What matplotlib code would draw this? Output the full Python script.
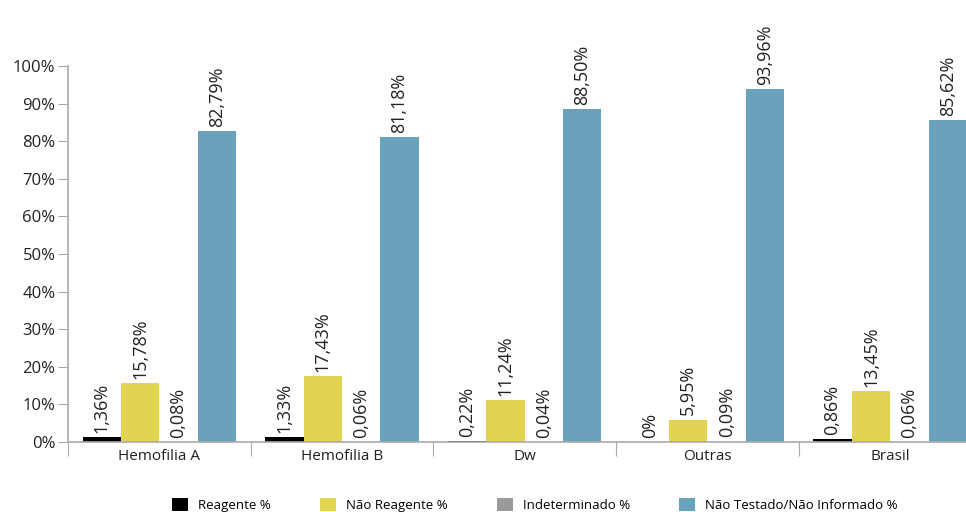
import matplotlib.pyplot as plt
import numpy as np

plt.rcParams["font.family"] = ["Open Sans", "DejaVu Sans"]

categories = ["Hemofilia A", "Hemofilia B", "Dw", "Outras", "Brasil"]
series_names = ["Reagente %", "Não Reagente %", "Indeterminado %",
                "Não Testado/Não Informado %"]
reagente = [1.36, 1.33, 0.22, 0.0, 0.86]
nao_reagente = [15.78, 17.43, 11.24, 5.95, 13.45]
indeterminado = [0.08, 0.06, 0.04, 0.09, 0.06]
nao_testado = [82.79, 81.18, 88.50, 93.96, 85.62]
colors = ["#000000", "#e3d351", "#9a9a9a", "#6aa2bb"]
yticks = [0, 10, 20, 30, 40, 50, 60, 70, 80, 90, 100]


def fmt(v):
    if v == 0:
        return "0%"
    return f"{v:.2f}%".replace(".", ",")


fig = plt.figure(figsize=(9.66, 5.12), dpi=100)
ax = fig.add_axes([68 / 966, 70 / 512, 913.5 / 966, 376 / 512])

x = np.arange(len(categories))
w = 0.21
data = [reagente, nao_reagente, indeterminado, nao_testado]
for i, (vals, col, name) in enumerate(zip(data, colors, series_names)):
    pos = x + (i - 1.5) * w
    ax.bar(pos, vals, width=w, color=col, label=name, zorder=2)
    for px, v in zip(pos, vals):
        ax.annotate(fmt(v), (px, v), xytext=(0, 3), textcoords="offset points",
                    rotation=90, ha="center", va="bottom", fontsize=13,
                    color="#222222")

ax.set_xlim(-0.5, len(categories) - 0.5)
ax.set_ylim(0, 100)
ax.set_yticks(yticks)
ax.set_yticklabels([f"{t}%" for t in yticks], fontsize=12, color="#222222")
ax.set_xticks(np.arange(len(categories) + 1) - 0.5)
ax.set_xticklabels([])
ax.set_xticks(x, minor=True)
ax.set_xticklabels(categories, minor=True, fontsize=11, color="#222222")
ax.tick_params(axis="x", which="major", length=10, color="#aaaaaa")
ax.tick_params(axis="x", which="minor", length=0, pad=5)
ax.tick_params(axis="y", length=7, color="#aaaaaa", pad=2)

for side in ["top", "right"]:
    ax.spines[side].set_visible(False)
ax.spines["left"].set_color("#aaaaaa")
ax.spines["bottom"].set_color("#aaaaaa")
ax.spines["left"].set_linewidth(1.2)
ax.spines["bottom"].set_linewidth(1.2)

fig.legend(loc="lower left", bbox_to_anchor=(160 / 966, -12 / 512), ncol=4,
           frameon=False, fontsize=9.5, handlelength=1.2, handleheight=1.2,
           columnspacing=3.7, handletextpad=0.8)

fig.savefig("out.png", dpi=100)
